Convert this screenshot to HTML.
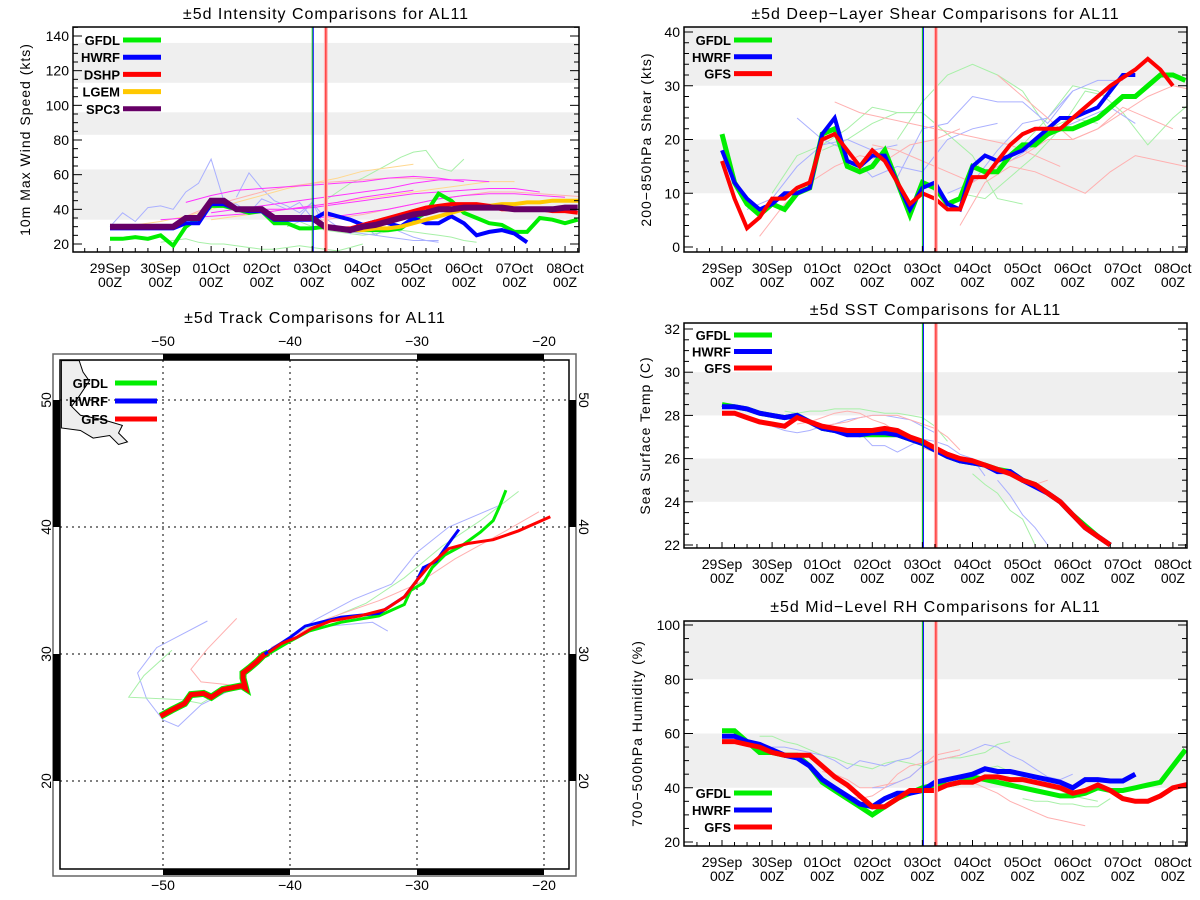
<!DOCTYPE html>
<html><head><meta charset="utf-8"><title>AL11 model comparisons</title>
<style>
html,body{margin:0;padding:0;background:#fff;}
svg{display:block;font-family:"Liberation Sans",sans-serif;}
.t{font-size:16px;letter-spacing:1px;}
.tk{font-size:14px;}
.lg{font-size:13px;font-weight:bold;}
</style></head>
<body>
<svg id="chart" width="1200" height="900" viewBox="0 0 1200 900" xmlns="http://www.w3.org/2000/svg"></svg>
<script>
// ---------- time axis ----------
const dayLabels = ["29Sep","30Sep","01Oct","02Oct","03Oct","04Oct","05Oct","06Oct","07Oct","08Oct"];
const initDays = [4.0, 4.02, 4.27]; // green, blue, red verticals
// ---------- intensity (start day 0, step 0.25) ----------
const intTicks = [20,40,60,80,100,120,140];
const intGFDL = [23,23,24,23,25,19,30,35,42,42,40,38,39,32,32,29,29,30,29,28,28,28,28,29,34,38,49,45,38,35,32,31,27,27,35,34,32,34];
const intHWRF = [29,29,29,29,29,29,32,32,43,43,40,39,39,34,34,34,34,38,36,34,31,33,32,30,35,32,32,36,32,25,27,28,26,21];
const intDSHP = [30,30,30,30,30,30,35,35,45,45,40,40,40,35,35,35,35,30,29,29,31,33,35,37,39,41,42,43,43,43,42,40,40,40,40,39,39,38];
const intLGEMStart = 4.25;
const intLGEM = [30,29,28,28,29,29,30,32,34,36,38,40,41,42,43,43,44,44,45,45,45,45];
const intSPC3 = [30,30,30,30,30,30,35,35,45,45,40,40,40,35,35,35,35,30,29,28,30,31,33,35,37,38,40,40,41,41,41,41,40,40,40,40,41,41];
// thin older forecasts (start day, step 0.5)
const intMagStart = [1.5,2.0,3.0,1.0,4.0];
const intMag = [[44,48,51,52,53,54,55,56,58,59,58,56],[38,40,42,44,46,48,50,52,55,57,57,56],[40,40,41,43,45,47,49,50,51,52,52,50],[34,35,36,37,38,40,42,44,47,49,51],[35,36,38,40,43,46,48,49,49,48,47]];
const intOrgStart = [0.5,1.5,2.0,4.0];
const intOrg = [[31,33,36,40,44,48,52,55,58,62,64,66],[36,42,46,50,53,55,56,57,58,58,57],[34,36,38,40,42,44,46,48,50,52,54,56,56],[33,35,37,40,43,46,48,50,50,49,48,47]];
const intLBlueStart = [0,2.5,3.5];
const intLBlue = [[30,38,33,41,42,40,50,55,69,45,43,38,46,43,40,44,35,30],[47,61,52,45,42,38,44,30,28,27,26,25,24,23,22,22,21],[33,36,44,35,30,26,32,25,30,27,24,22,22]];
const intLGreenStart = [1.0,4.25,3.5];
const intLGreen = [[21,22,23,21,20,20,19,18,17,17,18,19,18,17,16,18,20],[45,50,55,58,62,66,70,73,74,64,62,69],[30,33,30,28,27,26,25,26,27,28,27,26,25,24,22,21]];
// ---------- shear ----------
const shrTicks = [0,10,20,30,40];
const shrGFS = [16,9,3.5,5.5,9,9,11,12,20,21,18,15,18,16,12,8,10,9,7,7,13,13,16,19,21,22,22,22,24,26,28,30,31.5,33,35,33,30];
const shrHWRF = [18,12,9,7,8,10,10,11,21,24,16,15,17,17,12,7,11,12,8,7,15,17,16,17,18,20,22,24,24,25,26,29,32,32];
const shrGFDL = [21,12,8,6,8,7,10,11,21,22,15,14,15,18,12,6,12,11,8,9,15,14,14,17,19,19,21,22,22,23,24,26,28,28,30,32,32,31];
const shrThinRStart = [0.75,2.25,3.0,4.75,5.5];
const shrThinR = [[2,8,12,15,17,16,19,20,22],[27,25,24,23,22,21,20,19,17,15],[19,18,16,14,12,15,17,20,20,22,26,24,22],[4,12,15,14,12,10,14,17,16,15,18,22,29,28,22],[32,28,24,20,22,25,28,30,29]];
const shrThinBStart = [0.5,1.5,3.5,4.5,5.25];
const shrThinB = [[7,9,15,19,20,18,19],[24,20,18,13,15,14,20,22,23],[13,22,23,28,27,27,23,29],[10,12,18,23,24,29,31,31],[14,16,19,22,24,26,23]];
const shrThinGStart = [1.0,2.0,3.5,4.75,6.0];
const shrThinG = [[10,17,19,22,26,25,25,21],[18,20,23,25,25,21,17,9,8],[20,27,32,34,32,29,22,24,23],[10,9,13,17,22,29,28],[19,24,30,29,25,19,24,28,24]];
// ---------- SST ----------
const sstTicks = [22,24,26,28,30,32];
const sstGFS = [28.1,28.1,27.9,27.7,27.6,27.5,27.9,27.7,27.5,27.4,27.3,27.3,27.3,27.4,27.3,27.0,26.8,26.5,26.2,26.0,25.9,25.7,25.5,25.3,25.0,24.8,24.4,24.0,23.4,22.8,22.4,22.0];
const sstHWRF = [28.4,28.4,28.3,28.1,28.0,27.9,28.0,27.7,27.4,27.3,27.1,27.1,27.2,27.2,27.1,26.9,26.7,26.4,26.1,25.9,25.8,25.7,25.4,25.4,25.0,24.7,24.4,24.0,23.4,22.8,22.4,22.0];
const sstGFDL = [28.5,28.4,28.3,28.1,28.0,27.9,28.0,27.7,27.4,27.3,27.2,27.1,27.1,27.1,27.1,26.9,26.7,26.4,26.1,25.9,25.8,25.7,25.5,25.4,25.0,24.8,24.4,24.0,23.4,22.9,22.4,22.0];
const sstThinStart = [1.0,1.25,2.0,2.5,4.0,5.0,5.5,1.5];
const sstThin = [[27.5,27.3,27.2,27.3,27.5,27.6,27.8,27.9,28.0,28.0,27.9,27.8,27.5,27.2],[28.2,28.1,28.2,28.2,28.3,28.3,28.3,28.2,28.1,28.1,28.0,27.9,27.5,26.8],[27.5,27.6,27.7,27.9,28.0,28.0,28.0,27.8,27.6,27.4,27.0,26.4],[27.3,27.2,26.6,26.6,26.3,26.6,26.9,26.8,26.6,26.2,26.0,25.2],[26.5,26.3,26.0,25.8,25.8,25.7,25.6,25.4,25.0,24.8,25.0],[25.3,24.8,24.4,23.6,23.2,22.0],[25.0,24.3,23.4,22.8,22.0],[27.6,27.7,27.9,28.1,28.2,28.1,27.8,27.6,27.2,26.8]];
const sstThinColor = ["b","g","r","b","r","g","b","r"];
// ---------- RH ----------
const rhTicks = [20,40,60,80,100];
const rhGFS = [57,57,56,55,53,52,52,52,48,44,41,37,33,33,36,39,39,39,41,42,42,44,44,43,43,42,41,40,38,39,41,39,36,35,35,37,40,41,42];
const rhHWRF = [59,59,57,56,54,52,51,48,43,40,37,34,33,36,38,38,39,42,43,44,45,47,46,46,45,44,43,42,40,43,43,42.5,42.5,45];
const rhGFDL = [61,61,57,53,53,52,52,48,42,39,36,33,30,33,36,38,40,41,41,42,44,43,42,41,40,39,38,37,37,38,40,39,39,40,41,42,48,54];
const rhThinStart = [0.75,1.0,2.0,3.0,4.0,2.5,5.0,6.0];
const rhThin = [[59,59,57,56,54,52,51,49,48,47,49,50,49,48,50,51,51,52,53,56,57],[55,55,54,53,52,50,47,50,49,48,50,51,54],[46,45,43,40,40,41,42,44,48,52,53,54],[40,40,42,44,48,50,51,52,54,56,55,52,50,47,44,43,45],[40,41,43,44,45,47,48,46,44,42,40,39,37,36,35],[37,36,37,40,45,48,49,50,51,52],[42,40,38,35,33,31,29,28,27,26],[36,35,35,34,34,33,33,36]];
const rhThinColor = ["g","b","r","b","g","r","r","g"];
// ---------- track ----------
const trkLonTicks = [-50,-40,-30,-20];
const trkLatTicks = [20,30,40,50];
const trkHist = [[-50.2,25.1],[-49.3,25.6],[-48.3,26.1],[-47.8,26.8],[-46.8,26.9],[-46.2,26.6],[-45.3,27.2],[-43.8,27.5],[-43.5,27.3],[-43.7,28.1],[-43.7,28.5],[-43.2,28.9],[-42.6,29.4],[-42.1,29.9],[-41.7,30.1]];
const trkGFS = [[-41.7,30.1],[-40.7,30.8],[-39.5,31.3],[-38.3,32.0],[-36.8,32.6],[-34.5,33.0],[-32.5,33.5],[-31,34.5],[-30,35.8],[-29,37],[-27.5,38.3],[-26,38.7],[-24,39.0],[-22,39.7],[-19.5,40.8]];
const trkGFDL = [[-41.7,30.0],[-40,31],[-38.5,31.8],[-36,32.5],[-33,33.0],[-31,33.9],[-30.5,35],[-29.5,35.6],[-28.8,36.8],[-27.8,37.8],[-26.5,38.5],[-25,39.6],[-24,40.5],[-23.5,41.6],[-23,42.9]];
const trkHWRF = [[-42,30],[-40,31.3],[-38.8,32.2],[-36,32.9],[-34,33.1],[-33,33.2],[-31,34.5],[-30,35.8],[-29.5,36.8],[-28.5,37.3],[-27.8,38.3],[-27.3,39],[-26.7,39.8]];
const trkThinB = [[[-43.3,27.5],[-45,27],[-47,26],[-48.8,24.3],[-50,24.8],[-51.3,26.5],[-52,28.5],[-50.5,30.5],[-46.5,32.6]],[[-41.8,30],[-38,32.7],[-35,34.3],[-32,35.5],[-30,38],[-27.5,40],[-23.5,41.7]],[[-37,32.2],[-33.5,32.5],[-32.3,31.8]]];
const trkThinG = [[[-43.5,27.3],[-45.5,27],[-47,26.1],[-48.5,26.4],[-52.7,26.6],[-51.5,28.3],[-49.3,30.3]],[[-40,31.5],[-34,34],[-31,36],[-28,38.5],[-25,40.5],[-22,42.8]]];
const trkThinR = [[[-43.3,27.3],[-45,27.6],[-47,27.8],[-47.8,28.8],[-46.5,30.4],[-44.2,32.8]],[[-41.5,30.5],[-37,32.8],[-33,34.2],[-30,35.5],[-27,37.5],[-23,39.7],[-20.4,41.2]]];
const landOutline = [[-58,53.1],[-56.6,53.1],[-56.3,52.2],[-55.8,51.5],[-56.6,50.3],[-57.2,49.5],[-56.5,48.8],[-55,48.5],[-54.2,48.3],[-53.2,48],[-53.5,47.4],[-52.8,46.7],[-53.5,46.5],[-54.2,47.2],[-55.5,47],[-56.5,47.6],[-58,47.8]];

const NS="http://www.w3.org/2000/svg";
const svg=document.getElementById('chart');
function el(tag,attrs,parent){const e=document.createElementNS(NS,tag);for(const k in attrs)e.setAttribute(k,attrs[k]);(parent||svg).appendChild(e);return e;}
const COL={g:"#00ee00",b:"#0000ff",r:"#ff0000",o:"#ffc800",p:"#660066"};
const LIGHT={g:"#a8f0a8",b:"#aab0ff",r:"#ffb0b0",o:"#ffd890",m:"#ff33ff"};

function panel(cfg){
  const g=el('g',{});
  
  
  const L=cfg.L,R=cfg.R,T=cfg.T,B=cfg.B;
  const X=d=>cfg.x0+d*cfg.dx;
  const Y=v=>cfg.yA+(v-cfg.vA)*(cfg.yB-cfg.yA)/(cfg.vB-cfg.vA);
  const clip='clip-'+cfg.name;
  const cp=el('clipPath',{id:clip},g);el('rect',{x:L,y:T,width:R-L,height:B-T},cp);
  // bands
  cfg.bands.forEach(b=>{const y1=Math.max(T,Y(b[1])),y2=Math.min(B,Y(b[0]));
    const r=el('rect',{x:L,y:y1,width:R-L,height:y2-y1,fill:"#efefef"},g);
    });
  const pl=el('g',{'clip-path':'url(#'+clip+')'},g);
  function line(vals,start,step,color,w,nm){
    const pts=vals.map((v,i)=>X(start+i*step).toFixed(1)+','+Y(v).toFixed(1)).join(' ');
    const p=el('polyline',{points:pts,fill:'none',stroke:color,'stroke-width':w,'stroke-linejoin':'miter'},pl);
    }
  cfg.thin.forEach(t=>line(t[0],t[1],t[2],t[3],1,'old-forecast-line'));
  cfg.main.forEach(m=>line(m[0],m[1],0.25,m[2],m[3],m[4]));
  // init lines
  const vr=el('rect',{x:X(initDays[2])-2,y:T,width:4,height:B-T,fill:'#ffb8b8'},g);
  
  [['#00cc00',0],['#0000ff',1],['#ff0000',2]].forEach(c=>{const ln=el('line',{x1:X(initDays[c[1]]),x2:X(initDays[c[1]]),y1:T,y2:B,stroke:c[0],'stroke-width':1},g);
    });
  // frame
  const fr=el('rect',{x:L,y:T,width:R-L,height:B-T,fill:'none',stroke:'#000','stroke-width':1.5},g);
  
  // y ticks
  const n=cfg.ticks.length, step=cfg.ticks[1]-cfg.ticks[0];
  for(let i=0;i<n;i++){const v=cfg.ticks[i],y=Y(v);
    if(y>=T-1&&y<=B+1){el('line',{x1:L,x2:L+9,y1:y,y2:y,stroke:'#000'},g);el('line',{x1:R,x2:R-9,y1:y,y2:y,stroke:'#000'},g);}
    const tx=el('text',{x:L-4,y:y+5,'text-anchor':'end',class:'tk'},g);tx.textContent=v;
    
    for(let k=1;k<cfg.minor;k++){const ym=Y(v+k*step/cfg.minor);if(ym>T&&ym<B){el('line',{x1:L,x2:L+5,y1:ym,y2:ym,stroke:'#000'},g);el('line',{x1:R,x2:R-5,y1:ym,y2:ym,stroke:'#000'},g);}}
  }
  // x ticks
  for(let d=-0.75;d<=9.3;d+=0.25){const x=X(d);if(x>L+1&&x<R-1)el('line',{x1:x,x2:x,y1:B,y2:B-(d%1===0?6:4),stroke:'#000'},g);}
  dayLabels.forEach((lab,i)=>{const a=el('text',{x:X(i),y:B+21,'text-anchor':'middle',class:'tk'},g);a.textContent=lab;
    
    const b=el('text',{x:X(i),y:B+35,'text-anchor':'middle',class:'tk'},g);b.textContent='00Z';
    });
  const tt=el('text',{x:(L+R)/2,y:cfg.titleY,'text-anchor':'middle',class:'t'},g);tt.textContent=cfg.title;
  
  const yt=el('text',{x:0,y:0,'text-anchor':'middle',class:'tk',transform:'translate('+cfg.ytX+','+((T+B)/2)+') rotate(-90)','letter-spacing':'1'},g);yt.textContent=cfg.ytitle;
  
  // legend
  cfg.legend.forEach((lg,i)=>{const y=cfg.legY+i*cfg.legDy;
    const lt=el('text',{x:cfg.legX1-3,y:y+5,'text-anchor':'end',class:'lg'},g);lt.textContent=lg[0];
    
    const ll=el('line',{x1:cfg.legX1,x2:cfg.legX1+38,y1:y,y2:y,stroke:lg[1],'stroke-width':5},g);
    });
}
function thinList(arrs,starts,step,colors){return arrs.map((a,i)=>[a,starts[i],step,colors[i]]);}

// Intensity
panel({name:'intensity-panel',L:73,R:579,T:27,B:252,x0:110,dx:50.56,yA:244,vA:20,yB:36,vB:140,
  ticks:intTicks,minor:4,bands:[[34,63],[83,96],[113,136]],
  title:'\u00b15d Intensity Comparisons for AL11',titleY:19,ytitle:'10m Max Wind Speed (kts)',ytX:30,
  thin:[].concat(thinList(intLGreen,intLGreenStart,0.25,intLGreen.map(()=>LIGHT.g)),
    thinList(intLBlue,intLBlueStart,0.25,intLBlue.map(()=>LIGHT.b)),
    thinList(intOrg,intOrgStart,0.5,intOrg.map((a,i)=>i%2?LIGHT.r:LIGHT.o)),
    thinList(intMag,intMagStart,0.5,intMag.map(()=>LIGHT.m))),
  main:[[intGFDL,0,COL.g,4,'gfdl-line'],[intHWRF,0,COL.b,4,'hwrf-line'],[intLGEM,intLGEMStart,COL.o,4,'lgem-line'],[intDSHP,0,COL.r,4,'dshp-line'],[intSPC3,0,COL.p,6,'spc3-line']],
  legend:[['GFDL',COL.g],['HWRF',COL.b],['DSHP',COL.r],['LGEM',COL.o],['SPC3',COL.p]],legX1:123,legY:40,legDy:17.2});
// Shear
panel({name:'shear-panel',L:684,R:1187,T:27,B:252,x0:722,dx:50.1,yA:247,vA:0,yB:32,vB:40,
  ticks:shrTicks,minor:5,bands:[[10,20],[30,45]],
  title:'\u00b15d Deep\u2212Layer Shear Comparisons for AL11',titleY:19,ytitle:'200\u2212850hPa Shear (kts)',ytX:651,
  thin:[].concat(thinList(shrThinG,shrThinGStart,0.5,shrThinG.map(()=>LIGHT.g)),thinList(shrThinB,shrThinBStart,0.5,shrThinB.map(()=>LIGHT.b)),thinList(shrThinR,shrThinRStart,0.5,shrThinR.map(()=>LIGHT.r))),
  main:[[shrGFDL,0,COL.g,5,'gfdl-line'],[shrHWRF,0,COL.b,4,'hwrf-line'],[shrGFS,0,COL.r,4,'gfs-line']],
  legend:[['GFDL',COL.g],['HWRF',COL.b],['GFS',COL.r]],legX1:734,legY:40,legDy:16.8});
// SST
const cmap={g:LIGHT.g,b:LIGHT.b,r:LIGHT.r};
panel({name:'sst-panel',L:684,R:1187,T:323,B:548,x0:722,dx:50.1,yA:545,vA:22,yB:329,vB:32,
  ticks:sstTicks,minor:4,bands:[[24,26],[28,30]],
  title:'\u00b15d SST Comparisons for AL11',titleY:315,ytitle:'Sea Surface Temp (C)',ytX:650,
  thin:thinList(sstThin,sstThinStart,0.25,sstThinColor.map(c=>cmap[c])),
  main:[[sstGFDL,0,COL.g,5,'gfdl-line'],[sstHWRF,0,COL.b,5,'hwrf-line'],[sstGFS,0,COL.r,5,'gfs-line']],
  legend:[['GFDL',COL.g],['HWRF',COL.b],['GFS',COL.r]],legX1:734,legY:335,legDy:16.5});
// RH
panel({name:'rh-panel',L:684,R:1187,T:621,B:846,x0:722,dx:50.1,yA:842,vA:20,yB:625,vB:100,
  ticks:rhTicks,minor:4,bands:[[40,60],[80,101.5]],
  title:'\u00b15d Mid\u2212Level RH Comparisons for AL11',titleY:612,ytitle:'700\u2212500hPa Humidity (%)',ytX:642,
  thin:thinList(rhThin,rhThinStart,0.25,rhThinColor.map(c=>cmap[c])),
  main:[[rhGFDL,0,COL.g,5,'gfdl-line'],[rhHWRF,0,COL.b,5,'hwrf-line'],[rhGFS,0,COL.r,5,'gfs-line']],
  legend:[['GFDL',COL.g],['HWRF',COL.b],['GFS',COL.r]],legX1:734,legY:793,legDy:17});

// Track map
(function(){
  const g=el('g',{});
  
  
  const L=60,R=569,T=360,B=869;
  const LX=lon=>163+(lon+50)*12.7, LY=lat=>400-(lat-50)*12.7;
  const cp=el('clipPath',{id:'clip-trk'},g);el('rect',{x:L,y:T,width:R-L,height:B-T},cp);
  el('rect',{x:53,y:354,width:523,height:522,fill:'none',stroke:'#666','stroke-width':1.5},g);
  const pl=el('g',{'clip-path':'url(#clip-trk)'},g);
  const land=el('polygon',{points:landOutline.map(p=>LX(p[0])+','+LY(p[1])).join(' '),fill:'#eeeeee',stroke:'#000','stroke-width':1},pl);
  
  trkLonTicks.forEach(lon=>{el('line',{x1:LX(lon),x2:LX(lon),y1:T,y2:B,stroke:'#000','stroke-dasharray':'2,4'},pl);});
  trkLatTicks.forEach(lat=>{el('line',{x1:L,x2:R,y1:LY(lat),y2:LY(lat),stroke:'#000','stroke-dasharray':'2,4'},pl);});
  function tr(pts,col,w,nm){const p=el('polyline',{points:pts.map(q=>LX(q[0]).toFixed(1)+','+LY(q[1]).toFixed(1)).join(' '),fill:'none',stroke:col,'stroke-width':w},pl);
    }
  trkThinB.forEach(t=>tr(t,LIGHT.b,1,'old-hwrf-track'));
  trkThinG.forEach(t=>tr(t,LIGHT.g,1,'old-gfdl-track'));
  trkThinR.forEach(t=>tr(t,LIGHT.r,1,'old-gfs-track'));
  tr(trkHist,COL.g,7,'gfdl-history-track');
  tr(trkHist,COL.r,5,'gfs-history-track');
  tr(trkGFDL,COL.g,3,'gfdl-track');
  tr(trkHWRF,COL.b,3,'hwrf-track');
  tr(trkGFS,COL.r,3,'gfs-track');
  el('rect',{x:L,y:T,width:R-L,height:B-T,fill:'none',stroke:'#000','stroke-width':1.5},g);
  // black bars
  [[-50,-40],[-30,-20]].forEach(s=>{el('rect',{x:LX(s[0]),y:354,width:LX(s[1])-LX(s[0]),height:6,fill:'#000'},g);el('rect',{x:LX(s[0]),y:869,width:LX(s[1])-LX(s[0]),height:6,fill:'#000'},g);});
  [[50,40],[30,20]].forEach(s=>{el('rect',{x:53,y:LY(s[0]),width:7,height:LY(s[1])-LY(s[0]),fill:'#000'},g);el('rect',{x:569,y:LY(s[0]),width:7,height:LY(s[1])-LY(s[0]),fill:'#000'},g);});
  trkLonTicks.forEach(lon=>{[346,890].forEach(y=>{const t=el('text',{x:LX(lon),y:y,'text-anchor':'middle',class:'tk','font-size':'15'},g);t.textContent='\u2212'+(-lon);
    });});
  trkLatTicks.forEach(lat=>{const t1=el('text',{x:0,y:0,'text-anchor':'middle',class:'tk',transform:'translate(51,'+LY(lat)+') rotate(-90)'},g);t1.textContent=lat;
    
    const t2=el('text',{x:0,y:0,'text-anchor':'middle',class:'tk',transform:'translate(579,'+LY(lat)+') rotate(90)'},g);t2.textContent=lat;
    });
  const tt=el('text',{x:315,y:323,'text-anchor':'middle',class:'t'},g);tt.textContent='\u00b15d Track Comparisons for AL11';
  
  [['GFDL',COL.g],['HWRF',COL.b],['GFS',COL.r]].forEach((lg,i)=>{const y=383+i*18;
    const t=el('text',{x:108,y:y+5,'text-anchor':'end',class:'lg'},g);t.textContent=lg[0];
    
    const l=el('line',{x1:115,x2:157,y1:y,y2:y,stroke:lg[1],'stroke-width':5},g);
    });
})();
</script>
</body></html>
